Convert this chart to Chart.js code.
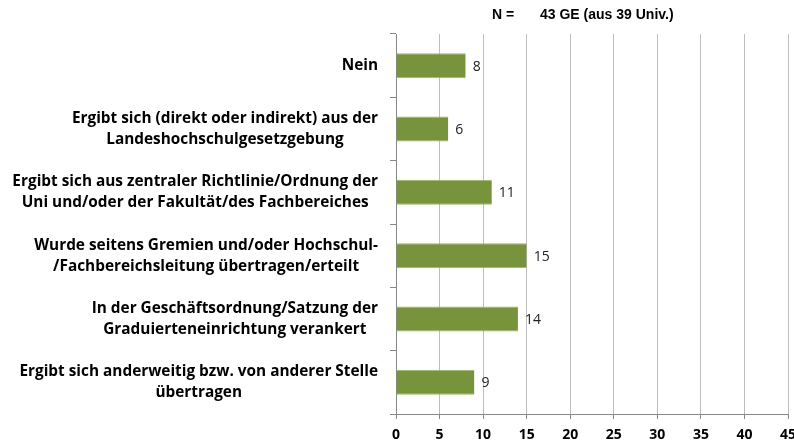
<!DOCTYPE html>
<html><head><meta charset="utf-8">
<script src="https://cdn.jsdelivr.net/npm/chart.js@4"></script>
<style>html,body{margin:0;padding:0;background:#fff}#wrap{width:794px;height:440px}</style>
</head><body><div id="wrap"><canvas id="c"></canvas></div>
<script>
const categories = [
  ["Nein"],
  ["Ergibt sich (direkt oder indirekt) aus der", "Landeshochschulgesetzgebung"],
  ["Ergibt sich aus zentraler Richtlinie/Ordnung der", "Uni und/oder der Fakultät/des Fachbereiches"],
  ["Wurde seitens Gremien und/oder Hochschul-", "/Fachbereichsleitung übertragen/erteilt"],
  ["In der Geschäftsordnung/Satzung der", "Graduierteneinrichtung verankert"],
  ["Ergibt sich anderweitig bzw. von anderer Stelle", "übertragen"]
];
const values = [8, 6, 11, 15, 14, 9];
const xTicks = [0, 5, 10, 15, 20, 25, 30, 35, 40, 45];
const titleLeft = "N =";
const titleRight = "43 GE (aus 39 Univ.)";

const FAMILY = "'Open Sans'";
const customDraw = {
  id: 'customDraw',
  afterDraw(chart) {
    const ctx = chart.ctx;
    const y = chart.scales.y;
    const area = chart.chartArea;
    ctx.save();
    let size = 14;
    ctx.font = `bold ${size}px ${FAMILY}`;
    const longest = Math.max(...categories.flat().map(l => ctx.measureText(l).width));
    size = size * 366 / longest;
    ctx.font = `bold ${size}px ${FAMILY}`;
    ctx.fillStyle = '#000';
    ctx.textBaseline = 'middle';
    ctx.textAlign = 'center';
    const rightEdge = area.left - 18;
    const lh = 21;
    categories.forEach((lines, i) => {
      const cy = y.getPixelForTick(i);
      const w = Math.max(...lines.map(l => ctx.measureText(l).width));
      const cx = rightEdge - w / 2;
      const y0 = cy - (lines.length - 1) * lh / 2;
      lines.forEach((l, j) => ctx.fillText(l, cx, y0 + j * lh));
    });
    const meta = chart.getDatasetMeta(0);
    ctx.font = `14px ${FAMILY}`;
    ctx.fillStyle = '#222';
    ctx.textAlign = 'left';
    meta.data.forEach((bar, i) => {
      ctx.fillText(String(values[i]), bar.x + 7, bar.y + 1);
    });
    ctx.font = "bold 14px 'Liberation Sans', Arial";
    ctx.fillStyle = '#000';
    ctx.textAlign = 'left';
    ctx.fillText(titleLeft, 492, 15);
    ctx.fillText(titleRight, 540, 15);
    ctx.restore();
  }
};

new Chart(document.getElementById('c'), {
  type: 'bar',
  data: {
    labels: categories,
    datasets: [{
      data: values,
      backgroundColor: '#77933C',
      borderColor: '#9BB565',
      borderWidth: {top: 1, bottom: 1, left: 0, right: 0},
      borderSkipped: false,
      barPercentage: 0.79,
      categoryPercentage: 0.5
    }]
  },
  options: {
    indexAxis: 'y',
    responsive: true,
    maintainAspectRatio: false,
    animation: false,
    events: [],
    layout: {padding: {top: 34, right: 6, left: 0, bottom: 0}},
    plugins: {legend: {display: false}, tooltip: {enabled: false}, title: {display: false}},
    scales: {
      x: {
        min: 0, max: 45,
        afterBuildTicks(scale) { scale.ticks = xTicks.map(v => ({value: v})); },
        afterFit(scale) { scale.paddingRight = 0; scale.height = 26; },
        grid: {color: '#BEBEBE', lineWidth: 1, tickLength: 5, tickColor: '#888', drawTicks: true},
        border: {color: '#888', width: 1},
        ticks: {font: {family: 'Open Sans', weight: 'bold', size: 14}, color: '#000', padding: 8, maxRotation: 0}
      },
      y: {
        offset: true,
        grid: {offset: true, drawOnChartArea: false, tickLength: 6, tickColor: '#888'},
        border: {color: '#888', width: 1},
        ticks: {display: true, color: 'rgba(0,0,0,0)', font: {size: 1}, padding: 0},
        afterFit(scale) { scale.width = 396; }
      }
    }
  },
  plugins: [customDraw]
});
</script></body></html>
